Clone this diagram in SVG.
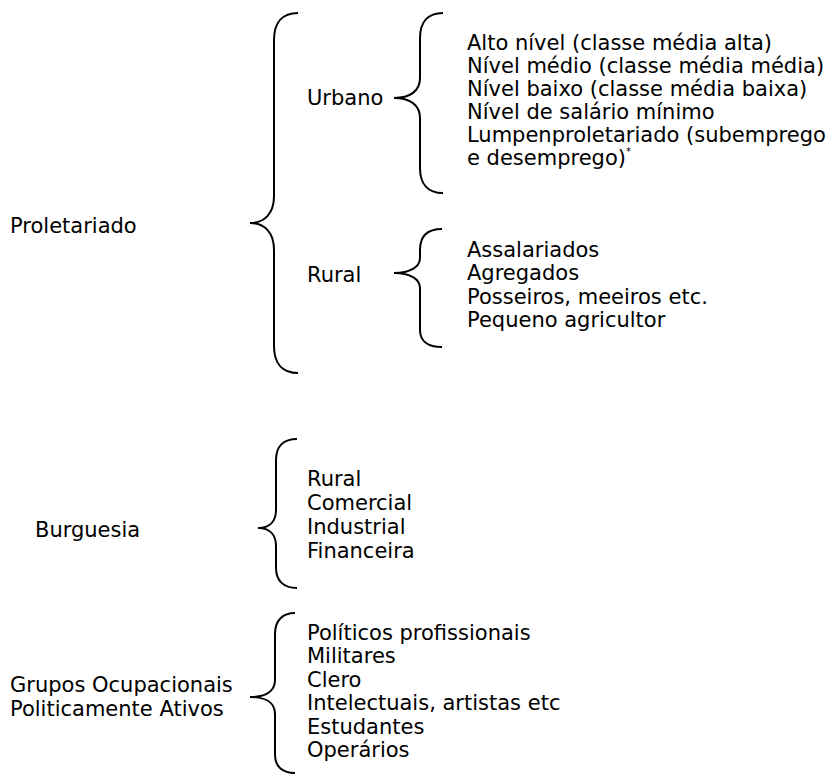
<svg xmlns="http://www.w3.org/2000/svg" width="834" height="779" viewBox="0 0 834 779">
<style>
text{font-family:"DejaVu Sans",Verdana,sans-serif;font-size:21px;fill:#000}
.br{fill:none;stroke:#000;stroke-width:2}
</style>
<rect width="834" height="779" fill="#fff"/>
<g id="connectors">
<path class="br" d="M298,13 C283,13 274,22 274,40 L274,196 C274,213 265,223 250,223 C265,223 274,233 274,250 L274,346 C274,364 283,373 298,373"/>
<path class="br" d="M443,13 C428,13 420,22 420,38 L420,78 C420,91 410,98 394,98 C410,98 420,105 420,118 L420,168 C420,184 428,193 443,193"/>
<path class="br" d="M442,229 C428,229 420,236 420,250 L420,258 C420,267 410,273 394,273 C410,273 420,279 420,288 L420,330 C420,341 428,347 442,347"/>
<path class="br" d="M297,439 C284,439 276,446 276,460 L276,510 C276,521 270,528 258,528 C270,528 276,535 276,546 L276,568 C276,581 284,588 297,588"/>
<path class="br" d="M295,613 C283,613 275,620 275,634 L275,680 C275,691 266,697 250,697 C266,697 275,703 275,714 L275,755 C275,767 283,773 295,773"/>
</g>
<g id="proletariado"><text x="10" y="233">Proletariado</text></g>
<g id="urbano"><text x="307" y="105">Urbano</text></g>
<g id="urbano-items">
<text x="467" y="50">Alto nível (classe média alta)</text>
<text x="467" y="73">Nível médio (classe média média)</text>
<text x="467" y="96">Nível baixo (classe média baixa)</text>
<text x="467" y="119">Nível de salário mínimo</text>
<text x="467" y="142">Lumpenproletariado (subemprego</text>
<text x="467" y="165">e desemprego)<tspan font-size="10" dy="-10">*</tspan></text>
</g>
<g id="rural"><text x="307" y="282">Rural</text></g>
<g id="rural-items">
<text x="467" y="257">Assalariados</text>
<text x="467" y="280">Agregados</text>
<text x="467" y="304">Posseiros, meeiros etc.</text>
<text x="467" y="327">Pequeno agricultor</text>
</g>
<g id="burguesia"><text x="35" y="537">Burguesia</text></g>
<g id="burguesia-items">
<text x="307" y="486">Rural</text>
<text x="307" y="510">Comercial</text>
<text x="307" y="534">Industrial</text>
<text x="307" y="558">Financeira</text>
</g>
<g id="grupos">
<text x="10" y="692">Grupos Ocupacionais</text>
<text x="10" y="716">Politicamente Ativos</text>
</g>
<g id="grupos-items">
<text x="307" y="640">Políticos profissionais</text>
<text x="307" y="663">Militares</text>
<text x="307" y="687">Clero</text>
<text x="307" y="710">Intelectuais, artistas etc</text>
<text x="307" y="734">Estudantes</text>
<text x="307" y="757">Operários</text>
</g>
</svg>
